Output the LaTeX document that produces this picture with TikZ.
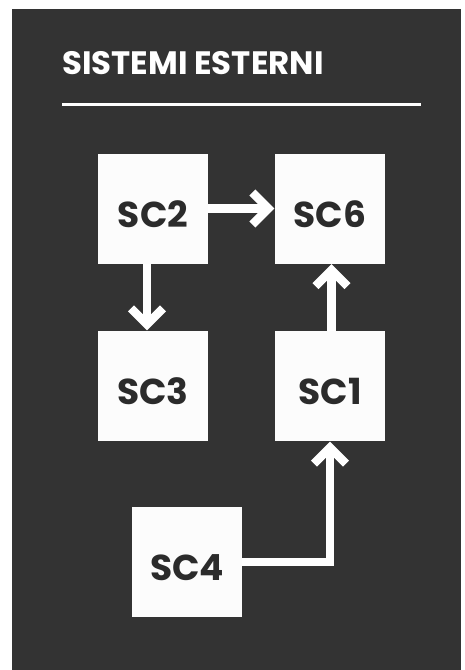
\documentclass[tikz,border=0pt]{standalone}
\usepackage{fontspec}
\setmainfont{Poppins}
\definecolor{panelbg}{HTML}{333333}
\definecolor{boxfill}{HTML}{FCFCFC}
\definecolor{boxtext}{HTML}{2B2B2B}
\tikzset{
  sysbox/.style={fill=boxfill, draw=none, minimum width=110pt, minimum height=110pt,
    inner sep=0pt, text=boxtext, font=\fontsize{36}{36}\selectfont\bfseries,
    text height=37pt, text depth=0pt},
  arrowline/.style={draw=white, line width=8.5pt, line join=miter, line cap=butt},
  chev/.pic={\draw[arrowline] (-16,16) -- (0,0) -- (-16,-16);}
}
\begin{document}
\begin{tikzpicture}[x=1pt,y=-1pt]
\useasboundingbox (0,0) rectangle (465,670);
\fill[white] (0,0) rectangle (465,670);
\fill[panelbg] (12,9) rectangle (461,670);
\node[anchor=base west, text=white, inner sep=0pt, font=\fontsize{32.4}{32.4}\selectfont\bfseries] (title) at (62,74) {SISTEMI ESTERNI};
\coordinate (ruleL) at (62,104);
\coordinate (ruleR) at (421,104);
\draw[white, line width=3pt] (ruleL) -- (ruleR);
\node[sysbox] (SC2) at (153,208.5) {SC2};
\node[sysbox] (SC6) at (330,208.5) {SC6};
\node[sysbox] (SC3) at (153,386) {SC3};
\node[sysbox] (SC1) at (330,386) {SC1};
\node[sysbox] (SC4) at (187,562) {SC4};
% SC2 -> SC6
\draw[arrowline] (SC2.east) -- ([xshift=-6.5pt]SC6.west);
\pic at ([xshift=-6.5pt]SC6.west) {chev};
% SC2 -> SC3
\draw[arrowline] ([xshift=-6pt]SC2.south) -- ([xshift=-6pt,yshift=6.5pt]SC3.north);
\pic[rotate=-90] at ([xshift=-6pt,yshift=6.5pt]SC3.north) {chev};
% SC1 -> SC6
\draw[arrowline] ([xshift=1.5pt]SC1.north) -- ([xshift=1.5pt,yshift=-6.5pt]SC6.south);
\pic[rotate=90] at ([xshift=1.5pt,yshift=-6.5pt]SC6.south) {chev};
% SC4 -> SC1
\draw[arrowline] (SC4.east) -| ([yshift=-6.5pt]SC1.south);
\pic[rotate=90] at ([yshift=-6.5pt]SC1.south) {chev};
\end{tikzpicture}
\end{document}
